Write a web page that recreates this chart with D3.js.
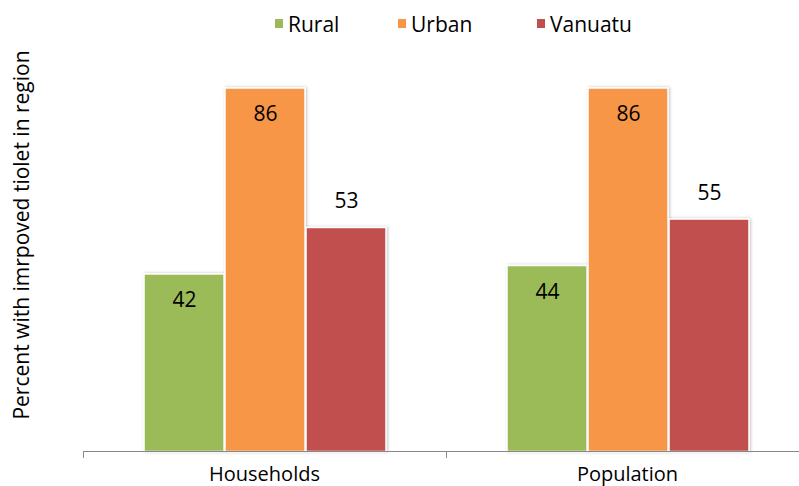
<!DOCTYPE html>
<html>
<head>
<meta charset="utf-8">
<script src="https://cdn.jsdelivr.net/npm/d3@7"></script>
<style>
body{margin:0;background:#fff;}
</style>
</head>
<body>
<div id="chart"></div>
<script>
var categories=['Households','Population'];
var seriesNames=['Rural','Urban','Vanuatu'];
var seriesColors=['#9BBB59','#F79646','#C0504D'];
var rural=[42,44];
var urban=[86,86];
var vanuatu=[53,55];
var insideLabel=[true,true,false];	//label inside bar top or above it

var W=799,H=486,
	font='"Open Sans", "Liberation Sans", sans-serif';

var svg=d3.select('#chart').append('svg').attr('width',W).attr('height',H)
	.style('font-family',font);

var defs=svg.append('defs');
var f=defs.append('filter').attr('id','sh').attr('x','-10%').attr('y','-10%').attr('width','120%').attr('height','120%');
f.append('feDropShadow').attr('dx',1).attr('dy',0).attr('stdDeviation',1.5).attr('flood-color','#000').attr('flood-opacity',0.25);

var x0=d3.scaleBand().domain(categories).range([83,809]);
var x1=d3.scaleBand().domain(seriesNames).range([0,243]);
var y=d3.scaleLinear().domain([0,100]).range([451.5,28.8]);

var data=categories.map(function(c,i){
	return {cat:c,vals:[rural[i],urban[i],vanuatu[i]]}
});

//bars
var gBars=svg.append('g');
data.forEach(function(d){
	var g=gBars.append('g').attr('transform','translate('+(x0(d.cat)+x0.bandwidth()/2-121.5)+',0)');
	d.vals.forEach(function(v,j){
		g.append('rect').attr('x',x1(seriesNames[j])+1)
			.attr('y',y(v))
			.attr('width',x1.bandwidth()-1)
			.attr('height',y(0)-y(v))
			.attr('fill',seriesColors[j])
			.attr('stroke','#fff')
			.attr('stroke-width',1.5)
			.attr('filter','url(#sh)');
		g.append('text')
			.attr('x',x1(seriesNames[j])+x1.bandwidth()/2+1)
			.attr('y',insideLabel[j]?y(v)+33:y(v)-19)
			.attr('text-anchor','middle')
			.attr('font-size',21)
			.attr('fill','#000')
			.text(v);
	});
});

//axis
var gAxis=svg.append('g');
gAxis.append('line').attr('x1',83).attr('x2',W).attr('y1',451.5).attr('y2',451.5)
	.attr('stroke','#888').attr('stroke-width',1);
[83,x0(categories[1])].forEach(function(t){
	gAxis.append('line').attr('x1',Math.round(t)+0.5).attr('x2',Math.round(t)+0.5)
		.attr('y1',451.5).attr('y2',458).attr('stroke','#888');
});
categories.forEach(function(c){
	gAxis.append('text').attr('x',x0(c)+x0.bandwidth()/2).attr('y',481)
		.attr('text-anchor','middle').attr('font-size',20).attr('fill','#000').text(c);
});

//y title
svg.append('text').attr('transform','translate(29,235) rotate(-90)')
	.attr('text-anchor','middle').attr('font-size',21).attr('fill','#000')
	.text('Percent with imrpoved tiolet in region');

//legend
var legX=[275,398,537];
var gLeg=svg.append('g');
seriesNames.forEach(function(n,i){
	gLeg.append('rect').attr('x',legX[i]).attr('y',19).attr('width',8).attr('height',9).attr('fill',seriesColors[i]);
	gLeg.append('text').attr('x',legX[i]+13).attr('y',32).attr('font-size',21).attr('fill','#000').text(n);
});
</script>
</body>
</html>
